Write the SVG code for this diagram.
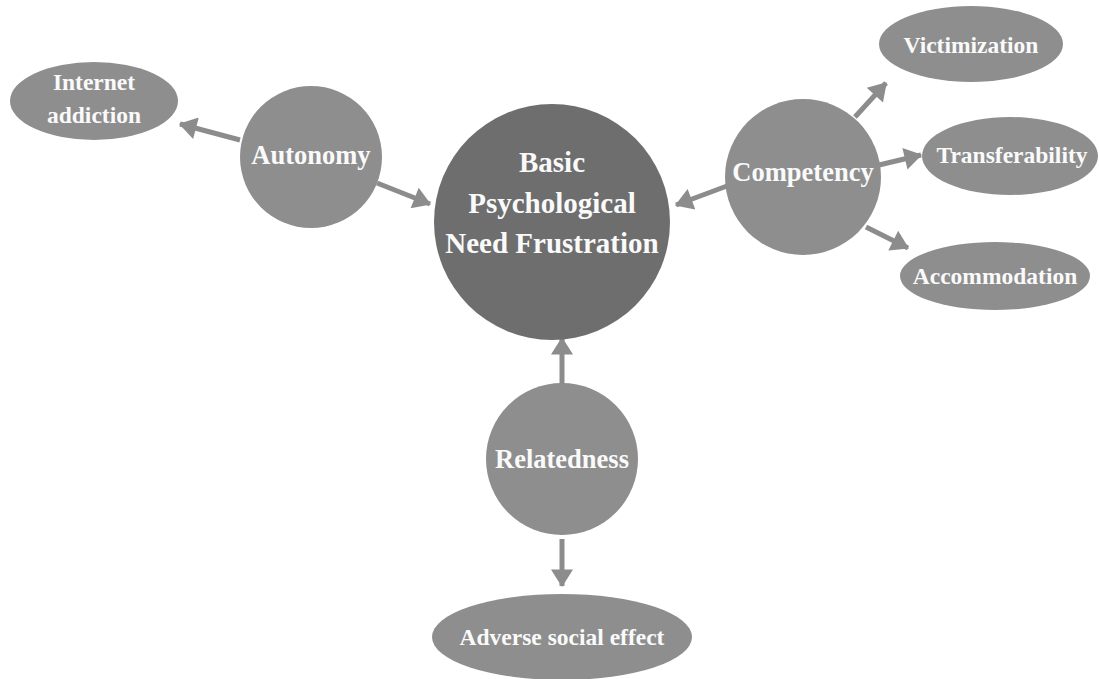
<svg xmlns="http://www.w3.org/2000/svg" width="1099" height="679" viewBox="0 0 1099 679">
<style>
.node{fill:#8e8e8e}
.core{fill:#6e6e6e}
.t{font-family:"Liberation Serif","Times New Roman",serif;font-weight:bold;fill:#fafafa;text-anchor:middle}
.ts{font-size:23.5px}
.tc{font-size:26.5px}
.tm{font-size:29px}
.conn line{stroke:#8c8c8c;stroke-width:5;marker-end:url(#ah)}
</style>
<defs>
<marker id="ah" markerUnits="userSpaceOnUse" markerWidth="22" markerHeight="22" viewBox="0 0 16 20" refX="15" refY="10" orient="auto">
<path d="M0,0 L16,10 L0,20 Z" fill="#8c8c8c"/>
</marker>
</defs>
<rect width="1099" height="679" fill="#ffffff"/>
<g id="connectors" class="conn">
<line x1="240" y1="140" x2="180" y2="124"/>
<line x1="377" y1="183" x2="430" y2="204"/>
<line x1="727" y1="186" x2="676" y2="205"/>
<line x1="855" y1="117" x2="886" y2="83"/>
<line x1="879" y1="165" x2="921" y2="155"/>
<line x1="866" y1="227" x2="908" y2="248"/>
<line x1="562" y1="384" x2="562" y2="338"/>
<line x1="562" y1="539" x2="562" y2="586"/>
</g>
<g id="node-basic">
<circle class="core" cx="552" cy="222" r="118"/>
<text class="t tm" x="552" y="172">Basic</text>
<text class="t tm" x="552" y="213">Psychological</text>
<text class="t tm" x="552" y="253">Need Frustration</text>
</g>
<g id="node-autonomy">
<circle class="node" cx="311" cy="157" r="71"/>
<text class="t tc" x="311" y="164">Autonomy</text>
</g>
<g id="node-internet">
<ellipse class="node" cx="94" cy="101" rx="84" ry="39"/>
<text class="t ts" x="94" y="90">Internet</text>
<text class="t ts" x="94" y="123">addiction</text>
</g>
<g id="node-competency">
<circle class="node" cx="803" cy="177" r="78"/>
<text class="t tc" x="803" y="181">Competency</text>
</g>
<g id="node-victimization">
<ellipse class="node" cx="971" cy="44" rx="92" ry="38"/>
<text class="t ts" x="971" y="53">Victimization</text>
</g>
<g id="node-transferability">
<ellipse class="node" cx="1010" cy="156" rx="88" ry="39"/>
<text class="t ts" x="1012" y="163">Transferability</text>
</g>
<g id="node-accommodation">
<ellipse class="node" cx="995" cy="276" rx="95" ry="34"/>
<text class="t ts" x="995" y="284">Accommodation</text>
</g>
<g id="node-relatedness">
<circle class="node" cx="562" cy="459" r="76"/>
<text class="t tc" x="562" y="468">Relatedness</text>
</g>
<g id="node-adverse">
<ellipse class="node" cx="562" cy="637" rx="130" ry="43"/>
<text class="t ts" x="562" y="645">Adverse social effect</text>
</g>
</svg>
